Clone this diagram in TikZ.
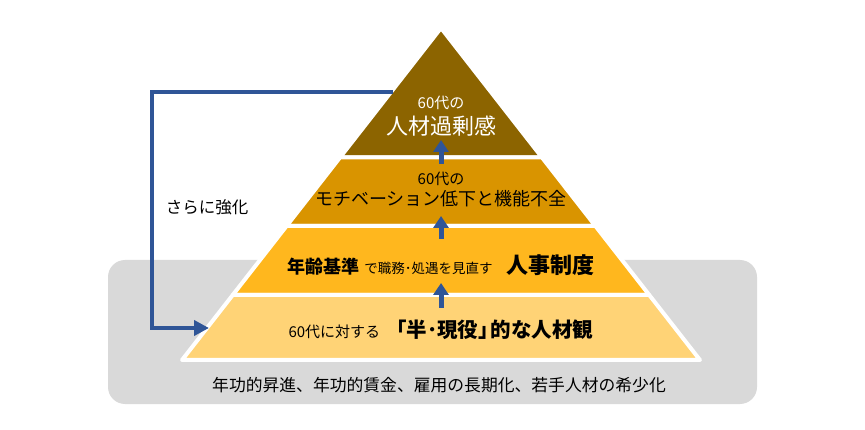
\documentclass[tikz,border=0pt]{standalone}
\usepackage{fontspec}
\setmainfont{Noto Sans CJK JP}
\usetikzlibrary{arrows.meta}

\definecolor{lvtop}{RGB}{140,100,0}
\definecolor{lvtwo}{RGB}{217,148,0}
\definecolor{lvthree}{RGB}{255,183,30}
\definecolor{lvfour}{RGB}{255,211,118}
\definecolor{basegray}{RGB}{217,217,217}
\definecolor{linkblue}{RGB}{47,85,151}

\newcommand{\fs}[1]{\fontsize{#1}{#1}\selectfont}

\tikzset{
  upflow/.style={linkblue, line width=5pt, -{Triangle[length=12pt,width=15pt]}},
  feedback/.style={linkblue, line width=4pt, line join=miter, -{Triangle[length=15pt,width=15pt]}},
  lbl/.style={inner sep=0pt, align=center},
}

\begin{document}
\begin{tikzpicture}[x=1pt,y=-1pt]
\useasboundingbox (0,0) rectangle (865,430);

% grey base under the pyramid
\fill[basegray, rounded corners=17pt] (108,260) rectangle (757,404);

\foreach \ytop/\ybot/\col in {
    28/157.5/lvtop,
    157.5/226/lvtwo,
    226/295/lvthree,
    295/360/lvfour,
} {
    \filldraw[fill=\col, draw=white, line width=4pt, line join=round]
        ({441-0.78*(\ytop-28)},\ytop) -- ({441+0.78*(\ytop-28)},\ytop)
        -- ({441+0.78*(\ybot-28)},\ybot) -- ({441-0.78*(\ybot-28)},\ybot) -- cycle;
}

% arrows between the layers
\foreach \i/\ys/\ye in {1/164/140, 2/239/216, 3/308/283} {
    \coordinate (up\i s) at (441,\ys);
    \coordinate (up\i e) at (441,\ye);
    \draw[upflow] (up\i s) -- (up\i e);
}

\node[lbl, white, font=\fs{15}] (topsub) at (441,103) {60代の};
\node[lbl, white, font=\fs{22}] (topmain) at (441,126) {人材過剰感};
\node[lbl, font=\fs{15}] (twosub) at (441,179) {60代の};
\node[lbl, font=\fs{18}] (twomain) at (441,199) {モチベーション低下と機能不全};
\node[lbl] (three) at (441,265) {{\fs{18}\bfseries 年齢基準}\hspace{5pt}{\fs{13.5}で職務･処遇を見直す}\hspace{14pt}{\fs{22}\bfseries 人事制度}};
\node[lbl] (four) at (441,330) {{\fs{15}60代に対する}\hspace{6pt}{\fs{20.5}\bfseries 「半･現役」\hspace{-8pt}的な人材観}};
\node[lbl, font=\fs{16.8}] (basetxt) at (439,385) {年功的昇進、年功的賃金、雇用の長期化、若手人材の希少化};
\node[lbl, font=\fs{16.5}] (feedlbl) at (207,207) {さらに強化};

% feedback loop back to the base layer
\coordinate (fbs) at (393,92);
\coordinate (fbc) at (152,92);
\coordinate (fbe) at (209,328);
\draw[feedback] (fbs) -- (fbc) |- (fbe);

\end{tikzpicture}
\end{document}
